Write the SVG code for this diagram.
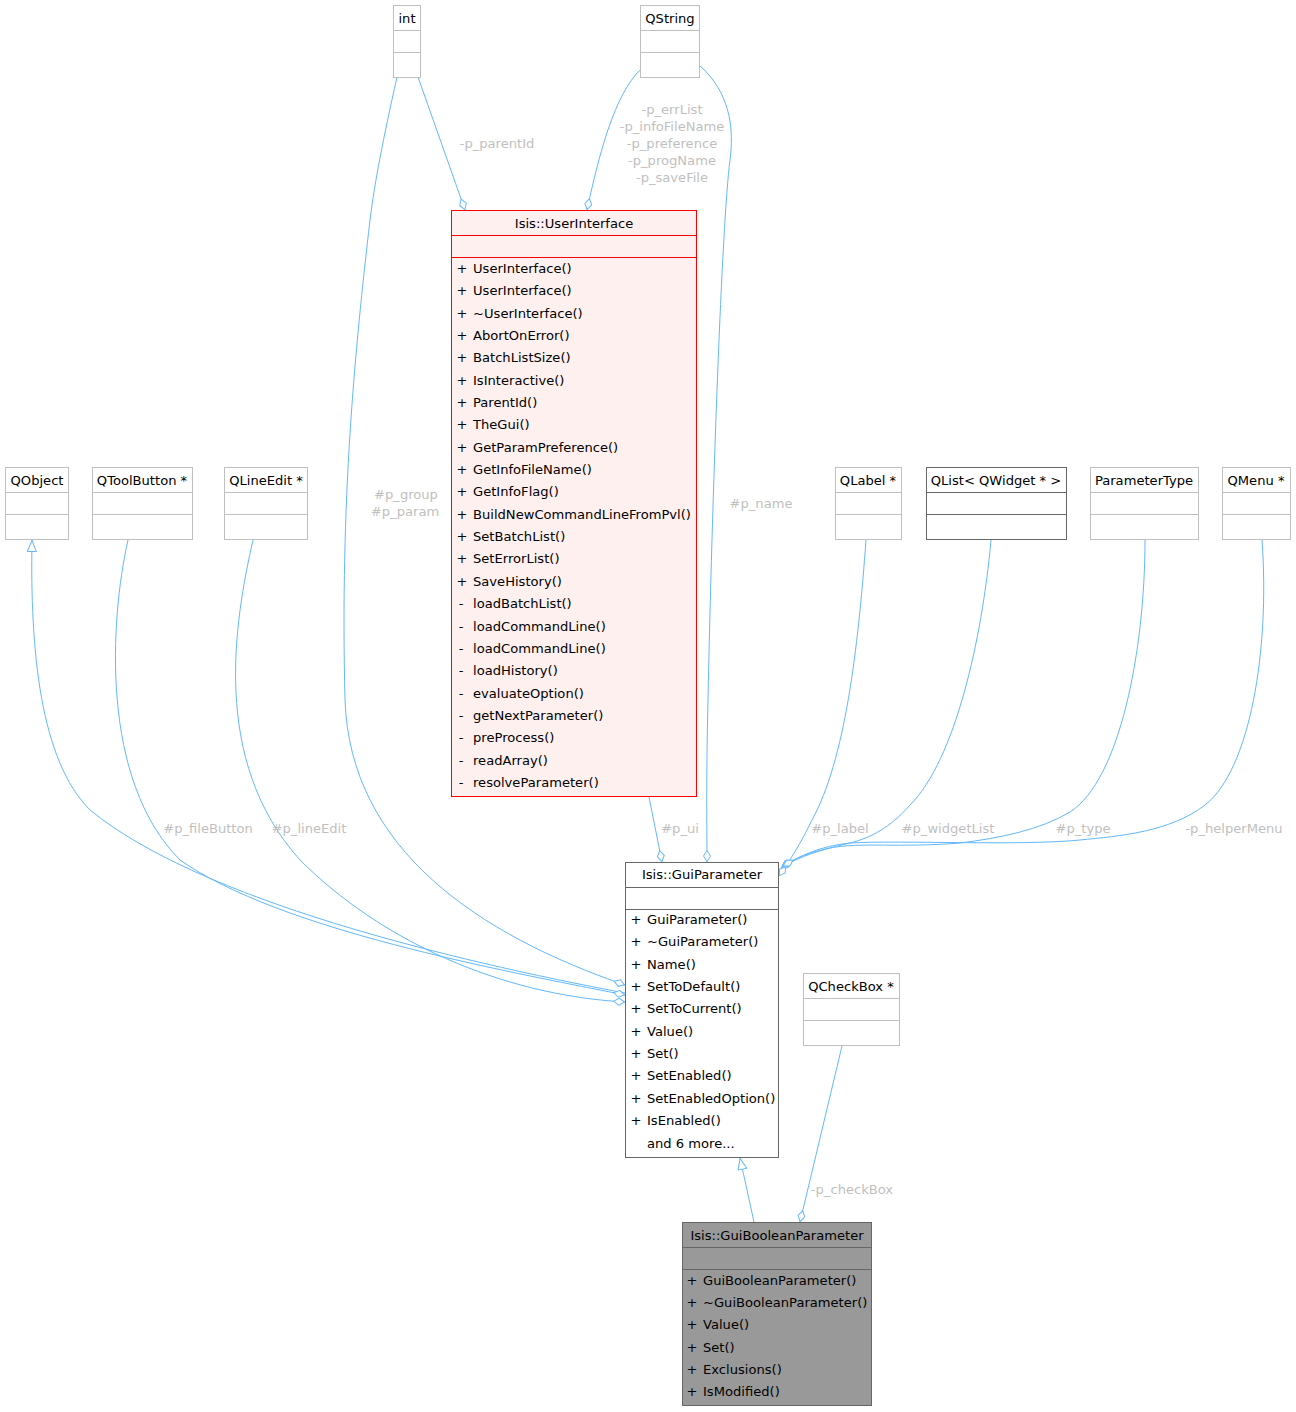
<svg xmlns="http://www.w3.org/2000/svg" width="1296" height="1412" viewBox="0 0 1296 1412">
<style>
text{font-family:"DejaVu Sans",sans-serif;font-size:13.1px;fill:#000}
.t{text-anchor:middle}
.s{text-anchor:middle}
.lbl{fill:#bfbfbf;text-anchor:middle}
.ext{fill:#fff;stroke:#bfbfbf;stroke-width:1}
.extl{stroke:#bfbfbf;stroke-width:1}
.dk{fill:#fff;stroke:#666;stroke-width:1}
.dkl{stroke:#666;stroke-width:1}
.e{fill:none;stroke:#63b8ff;stroke-width:1}
.agg{marker-end:url(#dia)}
.inh{marker-end:url(#tri)}
</style>
<defs>
<marker id="dia" viewBox="0 0 12 8" refX="12" refY="4" markerWidth="12" markerHeight="8" markerUnits="userSpaceOnUse" orient="auto">
<path d="M0.5,4 L6,0.5 L11.5,4 L6,7.5 Z" fill="#fff" stroke="#63b8ff"/>
</marker>
<marker id="tri" viewBox="0 0 12 10" refX="12" refY="5" markerWidth="12" markerHeight="10" markerUnits="userSpaceOnUse" orient="auto">
<path d="M0.5,0.5 L11.5,5 L0.5,9.5 Z" fill="#fff" stroke="#63b8ff"/>
</marker>
</defs>
<g id="edges">
<path class="e agg" d="M418,77 L465,210"/>
<text class="lbl" x="497" y="148">-p_parentId</text>
<path class="e agg" d="M640,70 C615,95 600,150 587,210"/>
<text class="lbl" x="672" y="114">-p_errList</text>
<text class="lbl" x="672" y="131">-p_infoFileName</text>
<text class="lbl" x="672" y="148">-p_preference</text>
<text class="lbl" x="672" y="165">-p_progName</text>
<text class="lbl" x="672" y="182">-p_saveFile</text>
<path class="e agg" d="M699,65 C722,85 736,115 730,160 C722,220 712,500 708,700 C706,780 707,830 707,862"/>
<text class="lbl" x="761" y="508">#p_name</text>
<path class="e agg" d="M397,77 C383,140 375,180 370,220 C355,350 340,500 345,700 C350,850 480,935 625,985"/>
<text class="lbl" x="406" y="499">#p_group</text>
<text class="lbl" x="405" y="516">#p_param</text>
<path class="e inh" d="M625,993 C450,960 200,900 90,810 C40,760 30,650 32,540"/>
<path class="e agg" d="M128,540 C110,620 100,780 180,860 C280,930 500,970 625,995"/>
<text class="lbl" x="208" y="833">#p_fileButton</text>
<path class="e agg" d="M253,540 C235,620 210,760 300,860 C380,940 500,995 625,1002"/>
<text class="lbl" x="309" y="833">#p_lineEdit</text>
<path class="e agg" d="M649,797 L662,862"/>
<text class="lbl" x="680" y="833">#p_ui</text>
<path class="e agg" d="M866,540 C858,650 845,760 812,820 C800,845 790,860 779,876"/>
<text class="lbl" x="840" y="833">#p_label</text>
<path class="e agg" d="M991,540 C982,640 955,760 910,805 C890,828 870,838 850,843 C820,850 800,856 781,868"/>
<text class="lbl" x="948" y="833">#p_widgetList</text>
<path class="e agg" d="M1145,540 C1145,650 1120,780 1070,812 C1040,830 1000,838 960,843 C900,848 860,842 830,848 C810,852 795,858 782,867"/>
<text class="lbl" x="1083" y="833">#p_type</text>
<path class="e agg" d="M1262,540 C1270,650 1250,770 1205,805 C1170,832 1120,836 1080,840 C1020,846 900,840 850,843 C820,846 800,856 783,866"/>
<text class="lbl" x="1234" y="833">-p_helperMenu</text>
<path class="e inh" d="M754,1222 L740,1158"/>
<path class="e agg" d="M842,1046 L800,1222"/>
<text class="lbl" x="852" y="1194">-p_checkBox</text>
</g>
<g id="int">
<rect class="ext" x="393.5" y="5.5" width="27" height="72"/>
<line class="extl" x1="393.5" y1="30.5" x2="420.5" y2="30.5"/>
<line class="extl" x1="393.5" y1="52.5" x2="420.5" y2="52.5"/>
<text class="t" x="407" y="23">int</text>
</g>
<g id="QString">
<rect class="ext" x="640.5" y="5.5" width="59" height="72"/>
<line class="extl" x1="640.5" y1="30.5" x2="699.5" y2="30.5"/>
<line class="extl" x1="640.5" y1="52.5" x2="699.5" y2="52.5"/>
<text class="t" x="670" y="23">QString</text>
</g>
<g id="UserInterface">
<rect x="451.5" y="210.5" width="245" height="586" fill="#fff0f0" stroke="#ff0000"/>
<line x1="451.5" y1="235.5" x2="696.5" y2="235.5" stroke="#ff0000"/>
<line x1="451.5" y1="257.5" x2="696.5" y2="257.5" stroke="#ff0000"/>
<text class="t" x="574" y="228">Isis::UserInterface</text>
<g>
<text class="s" x="462" y="273">+</text><text x="473" y="273">UserInterface()</text>
<text class="s" x="462" y="295">+</text><text x="473" y="295">UserInterface()</text>
<text class="s" x="462" y="318">+</text><text x="473" y="318">~UserInterface()</text>
<text class="s" x="462" y="340">+</text><text x="473" y="340">AbortOnError()</text>
<text class="s" x="462" y="362">+</text><text x="473" y="362">BatchListSize()</text>
<text class="s" x="462" y="385">+</text><text x="473" y="385">IsInteractive()</text>
<text class="s" x="462" y="407">+</text><text x="473" y="407">ParentId()</text>
<text class="s" x="462" y="429">+</text><text x="473" y="429">TheGui()</text>
<text class="s" x="462" y="452">+</text><text x="473" y="452">GetParamPreference()</text>
<text class="s" x="462" y="474">+</text><text x="473" y="474">GetInfoFileName()</text>
<text class="s" x="462" y="496">+</text><text x="473" y="496">GetInfoFlag()</text>
<text class="s" x="462" y="519">+</text><text x="473" y="519">BuildNewCommandLineFromPvl()</text>
<text class="s" x="462" y="541">+</text><text x="473" y="541">SetBatchList()</text>
<text class="s" x="462" y="563">+</text><text x="473" y="563">SetErrorList()</text>
<text class="s" x="462" y="586">+</text><text x="473" y="586">SaveHistory()</text>
<text class="s" x="461" y="608">-</text><text x="473" y="608">loadBatchList()</text>
<text class="s" x="461" y="631">-</text><text x="473" y="631">loadCommandLine()</text>
<text class="s" x="461" y="653">-</text><text x="473" y="653">loadCommandLine()</text>
<text class="s" x="461" y="675">-</text><text x="473" y="675">loadHistory()</text>
<text class="s" x="461" y="698">-</text><text x="473" y="698">evaluateOption()</text>
<text class="s" x="461" y="720">-</text><text x="473" y="720">getNextParameter()</text>
<text class="s" x="461" y="742">-</text><text x="473" y="742">preProcess()</text>
<text class="s" x="461" y="765">-</text><text x="473" y="765">readArray()</text>
<text class="s" x="461" y="787">-</text><text x="473" y="787">resolveParameter()</text>
</g>
</g>
<g id="QObject">
<rect class="ext" x="5.5" y="467.5" width="63" height="72"/>
<line class="extl" x1="5.5" y1="492.5" x2="68.5" y2="492.5"/>
<line class="extl" x1="5.5" y1="514.5" x2="68.5" y2="514.5"/>
<text class="t" x="37" y="485">QObject</text>
</g>
<g id="QToolButton">
<rect class="ext" x="92.5" y="467.5" width="100" height="72"/>
<line class="extl" x1="92.5" y1="492.5" x2="192.5" y2="492.5"/>
<line class="extl" x1="92.5" y1="514.5" x2="192.5" y2="514.5"/>
<text class="t" x="142" y="485">QToolButton *</text>
</g>
<g id="QLineEdit">
<rect class="ext" x="224.5" y="467.5" width="83" height="72"/>
<line class="extl" x1="224.5" y1="492.5" x2="307.5" y2="492.5"/>
<line class="extl" x1="224.5" y1="514.5" x2="307.5" y2="514.5"/>
<text class="t" x="266" y="485">QLineEdit *</text>
</g>
<g id="QLabel">
<rect class="ext" x="835.5" y="467.5" width="66" height="72"/>
<line class="extl" x1="835.5" y1="492.5" x2="901.5" y2="492.5"/>
<line class="extl" x1="835.5" y1="514.5" x2="901.5" y2="514.5"/>
<text class="t" x="868" y="485">QLabel *</text>
</g>
<g id="QList">
<rect class="dk" x="926.5" y="467.5" width="140" height="72"/>
<line class="dkl" x1="926.5" y1="492.5" x2="1066.5" y2="492.5"/>
<line class="dkl" x1="926.5" y1="514.5" x2="1066.5" y2="514.5"/>
<text class="t" x="996" y="485">QList&lt; QWidget * &gt;</text>
</g>
<g id="ParameterType">
<rect class="ext" x="1090.5" y="467.5" width="108" height="72"/>
<line class="extl" x1="1090.5" y1="492.5" x2="1198.5" y2="492.5"/>
<line class="extl" x1="1090.5" y1="514.5" x2="1198.5" y2="514.5"/>
<text class="t" x="1144" y="485">ParameterType</text>
</g>
<g id="QMenu">
<rect class="ext" x="1222.5" y="467.5" width="68" height="72"/>
<line class="extl" x1="1222.5" y1="492.5" x2="1290.5" y2="492.5"/>
<line class="extl" x1="1222.5" y1="514.5" x2="1290.5" y2="514.5"/>
<text class="t" x="1256" y="485">QMenu *</text>
</g>
<g id="GuiParameter">
<rect class="dk" x="625.5" y="862.5" width="153" height="295"/>
<line class="dkl" x1="625.5" y1="887.5" x2="778.5" y2="887.5"/>
<line class="dkl" x1="625.5" y1="909.5" x2="778.5" y2="909.5"/>
<text class="t" x="702" y="879">Isis::GuiParameter</text>
<text class="s" x="636" y="924">+</text><text x="647" y="924">GuiParameter()</text>
<text class="s" x="636" y="946">+</text><text x="647" y="946">~GuiParameter()</text>
<text class="s" x="636" y="969">+</text><text x="647" y="969">Name()</text>
<text class="s" x="636" y="991">+</text><text x="647" y="991">SetToDefault()</text>
<text class="s" x="636" y="1013">+</text><text x="647" y="1013">SetToCurrent()</text>
<text class="s" x="636" y="1036">+</text><text x="647" y="1036">Value()</text>
<text class="s" x="636" y="1058">+</text><text x="647" y="1058">Set()</text>
<text class="s" x="636" y="1080">+</text><text x="647" y="1080">SetEnabled()</text>
<text class="s" x="636" y="1103">+</text><text x="647" y="1103">SetEnabledOption()</text>
<text class="s" x="636" y="1125">+</text><text x="647" y="1125">IsEnabled()</text>
<text x="647" y="1148">and 6 more...</text>
</g>
<g id="QCheckBox">
<rect class="ext" x="803.5" y="973.5" width="96" height="72"/>
<line class="extl" x1="803.5" y1="998.5" x2="899.5" y2="998.5"/>
<line class="extl" x1="803.5" y1="1020.5" x2="899.5" y2="1020.5"/>
<text class="t" x="851" y="991">QCheckBox *</text>
</g>
<g id="GuiBooleanParameter">
<rect x="682.5" y="1222.5" width="189" height="183" fill="#999999" stroke="#666"/>
<line x1="682.5" y1="1247.5" x2="871.5" y2="1247.5" stroke="#666"/>
<line x1="682.5" y1="1269.5" x2="871.5" y2="1269.5" stroke="#666"/>
<text class="t" x="777" y="1240">Isis::GuiBooleanParameter</text>
<text class="s" x="692" y="1285">+</text><text x="703" y="1285">GuiBooleanParameter()</text>
<text class="s" x="692" y="1307">+</text><text x="703" y="1307">~GuiBooleanParameter()</text>
<text class="s" x="692" y="1329">+</text><text x="703" y="1329">Value()</text>
<text class="s" x="692" y="1352">+</text><text x="703" y="1352">Set()</text>
<text class="s" x="692" y="1374">+</text><text x="703" y="1374">Exclusions()</text>
<text class="s" x="692" y="1396">+</text><text x="703" y="1396">IsModified()</text>
</g>
</svg>
